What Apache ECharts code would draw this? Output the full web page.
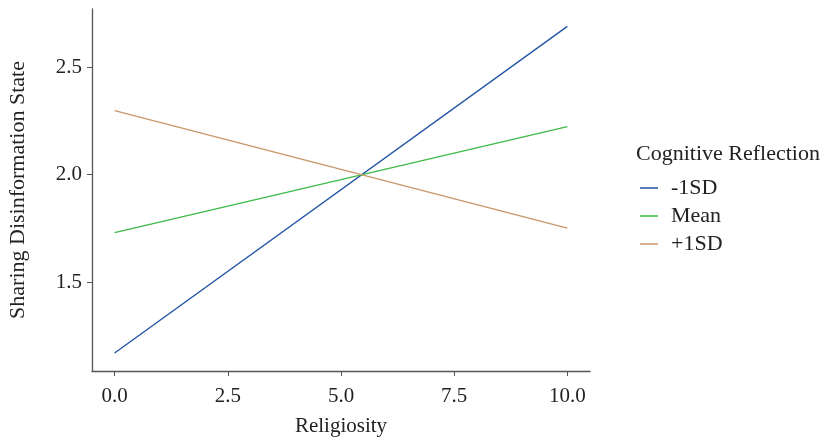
<!DOCTYPE html>
<html>
<head>
<meta charset="utf-8">
<script src="https://cdn.jsdelivr.net/npm/echarts@6/dist/echarts.min.js"></script>
<style>
  html, body { margin: 0; padding: 0; background: #fff; }
  #chart { width: 827px; height: 439px; }
</style>
</head>
<body>
<div id="chart"></div>
<script>
// Religiosity values at which the predicted lines are evaluated
const religiosity = [0, 10];
// Predicted "Sharing Disinformation State" at each level of Cognitive Reflection
const minus1SD = [1.170, 2.690];
const meanCR   = [1.730, 2.224];
const plus1SD  = [2.298, 1.751];
const seriesNames = ['-1SD', 'Mean', '+1SD'];
const xTicks = [0, 2.5, 5, 7.5, 10];
const yTicks = [1.5, 2.0, 2.5];

const FONT = '"Liberation Serif", "DejaVu Serif", serif';
const AXIS_COLOR = '#555';
const TEXT_COLOR = '#222';

function pairs(xs, ys) { return xs.map((x, i) => [x, ys[i]]); }

const chart = echarts.init(document.getElementById('chart'), null, { renderer: 'canvas' });

const mk = (name, values, color) => ({
  name: name,
  type: 'line',
  data: pairs(religiosity, values),
  showSymbol: false,
  symbol: 'none',
  lineStyle: { color: color, width: 1.3 },
  itemStyle: { color: color },
  animation: false
});

chart.setOption({
  backgroundColor: '#fff',
  textStyle: { fontFamily: FONT },
  grid: { left: 92, right: 237, top: 9, bottom: 68, containLabel: false, outerBoundsMode: 'none' },
  title: {
    text: 'Cognitive Reflection',
    left: 631, top: 138,
    textStyle: { fontFamily: FONT, fontSize: 22, fontWeight: 'normal', color: TEXT_COLOR }
  },
  legend: {
    orient: 'vertical',
    left: 635, top: 172,
    icon: 'rect',
    itemWidth: 18, itemHeight: 1.5, itemGap: 6,
    data: seriesNames,
    textStyle: { fontFamily: FONT, fontSize: 22, color: TEXT_COLOR, padding: [0, 0, 0, 8] }
  },
  xAxis: {
    type: 'value',
    min: -0.5, max: 10.5,
    name: 'Religiosity',
    nameLocation: 'middle',
    nameGap: 45,
    nameTextStyle: { fontFamily: FONT, fontSize: 21, color: TEXT_COLOR },
    axisLine: { show: true, onZero: false, lineStyle: { color: AXIS_COLOR, width: 1.3 } },
    axisTick: { show: true, length: 5, customValues: xTicks, lineStyle: { color: AXIS_COLOR } },
    axisLabel: {
      customValues: xTicks, margin: 15,
      fontFamily: FONT, fontSize: 21, color: TEXT_COLOR,
      formatter: v => v.toFixed(1)
    },
    splitLine: { show: false }
  },
  yAxis: {
    type: 'value',
    min: 1.086, max: 2.771,
    name: 'Sharing Disinformation State',
    nameLocation: 'middle',
    nameGap: 63,
    nameRotate: 90,
    nameTextStyle: { fontFamily: FONT, fontSize: 22, color: TEXT_COLOR },
    axisLine: { show: true, onZero: false, lineStyle: { color: AXIS_COLOR, width: 1.3 } },
    axisTick: { show: true, length: 5, customValues: yTicks, lineStyle: { color: AXIS_COLOR } },
    axisLabel: {
      customValues: yTicks, margin: 10,
      fontFamily: FONT, fontSize: 21, color: TEXT_COLOR,
      formatter: v => v.toFixed(1)
    },
    splitLine: { show: false }
  },
  series: [
    mk(seriesNames[0], minus1SD, '#1f52a3'),
    mk(seriesNames[1], meanCR, '#3dba47'),
    mk(seriesNames[2], plus1SD, '#c9966a')
  ]
});
</script>
</body>
</html>
